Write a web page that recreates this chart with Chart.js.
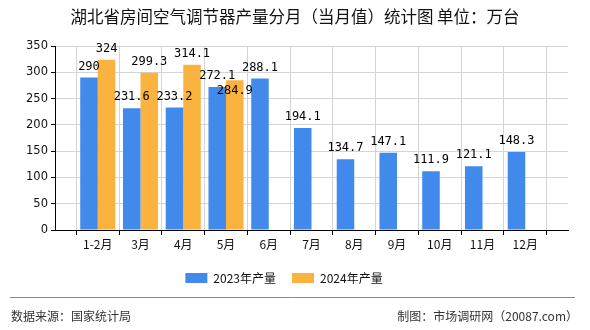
<!DOCTYPE html>
<html>
<head>
<meta charset="utf-8">
<script src="https://cdn.jsdelivr.net/npm/chart.js@4/dist/chart.umd.min.js"></script>
<style>
  html, body { margin: 0; padding: 0; background: #fff; }
  #wrap { width: 590px; height: 330px; }
</style>
</head>
<body>
<div id="wrap"><canvas id="chart" width="590" height="330"></canvas></div>
<script>
// data
var months = ['1-2月', '3月', '4月', '5月', '6月', '7月', '8月', '9月', '10月', '11月', '12月'];
var output2023 = [290, 231.6, 233.2, 272.1, 288.1, 194.1, 134.7, 147.1, 111.9, 121.1, 148.3];
var output2024 = [324, 299.3, 314.1, 284.9, null, null, null, null, null, null, null];
var yTicks = [0, 50, 100, 150, 200, 250, 300, 350];

var titleText = '湖北省房间空气调节器产量分月（当月值）统计图 单位：万台';
var sourceText = '数据来源：国家统计局';
var makerText = '制图：市场调研网（20087.com）';

var cjk = '"Noto Sans CJK SC", "Noto Sans", sans-serif';

// one empty slot at each end, like the original axis
var labels = [''].concat(months, ['']);
var pad = function (arr) { return [null].concat(arr, [null]); };

// title, footer line and source texts
const frame = {
    id: 'frame',
    afterDraw: function (chart) {
        var c = chart.ctx;
        c.save();
        c.fillStyle = '#111';
        c.font = '16.5px ' + cjk;
        c.textAlign = 'center';
        c.textBaseline = 'middle';
        c.fillText(titleText, 295, 17);

        c.strokeStyle = '#888';
        c.lineWidth = 1;
        c.beginPath();
        c.moveTo(10, 297.5);
        c.lineTo(575, 297.5);
        c.stroke();

        c.fillStyle = '#333';
        c.font = '12px ' + cjk;
        c.textAlign = 'left';
        c.fillText(sourceText, 11, 316);
        c.textAlign = 'right';
        c.fillText(makerText, 578, 316);
        c.restore();
    }
};

// value labels over each bar, pushed down when they would collide
const barLabels = {
    id: 'barLabels',
    afterDatasetsDraw: function (chart) {
        var c = chart.ctx;
        var placed = [];
        var h = 14;
        c.save();
        c.fillStyle = '#000';
        c.font = '12px "DejaVu Sans Mono", monospace';
        c.textAlign = 'center';
        c.textBaseline = 'bottom';
        chart.data.datasets.forEach(function (ds, i) {
            var meta = chart.getDatasetMeta(i);
            meta.data.forEach(function (bar, j) {
                var v = ds.data[j];
                if (v === null || v === undefined) return;
                var txt = String(v);
                var w = c.measureText(txt).width;
                var box = { l: bar.x - w / 2, r: bar.x + w / 2, b: bar.y - 5 };
                box.t = box.b - h;
                var moved = true;
                while (moved) {
                    moved = false;
                    placed.forEach(function (p) {
                        if (box.l < p.r && box.r > p.l && box.t < p.b && box.b > p.t) {
                            box.t = p.b + 1;
                            box.b = box.t + h;
                            moved = true;
                        }
                    });
                }
                placed.push(box);
                c.fillText(txt, bar.x, box.b);
            });
        });
        c.restore();
    }
};

var ctx = document.getElementById('chart');

const data = {
    labels: labels,
    datasets: [
        {
            label: '2023年产量',
            data: pad(output2023),
            backgroundColor: '#418AEB',
            barPercentage: 1,
            categoryPercentage: 0.82
        },
        {
            label: '2024年产量',
            data: pad(output2024),
            backgroundColor: '#FBB340',
            barPercentage: 1,
            categoryPercentage: 0.82
        }
    ]
};

var options = {
    responsive: false,
    animation: false,
    layout: {
        padding: { top: 46, left: 0, right: 22, bottom: 36 }
    },
    plugins: {
        legend: {
            display: true,
            position: 'bottom',
            labels: {
                color: '#111',
                font: { size: 12, family: cjk },
                boxWidth: 22,
                boxHeight: 10,
                padding: 16
            }
        },
        tooltip: { enabled: false }
    },
    scales: {
        x: {
            offset: false,
            afterFit: function (scale) { scale.height = 26; },
            grid: {
                color: '#d4d4d4',
                tickColor: '#000',
                tickLength: 5
            },
            border: { color: '#000', width: 1 },
            ticks: {
                color: '#111',
                font: { size: 12, family: cjk },
                maxRotation: 0,
                autoSkip: false,
                padding: 2
            }
        },
        y: {
            min: 0,
            max: 350,
            afterFit: function (scale) { scale.width = 55; },
            afterBuildTicks: function (scale) {
                scale.ticks = yTicks.map(function (v) { return { value: v }; });
            },
            grid: {
                color: '#d4d4d4',
                tickColor: '#000',
                tickLength: 4
            },
            border: { color: '#000', width: 1 },
            ticks: {
                color: '#111',
                font: { size: 11.5, family: '"DejaVu Sans", sans-serif' },
                padding: 3
            }
        }
    }
};

var chart1 = new Chart(ctx, {
    type: 'bar',
    data: data,
    options: options,
    plugins: [frame, barLabels]
});
</script>
</body>
</html>
